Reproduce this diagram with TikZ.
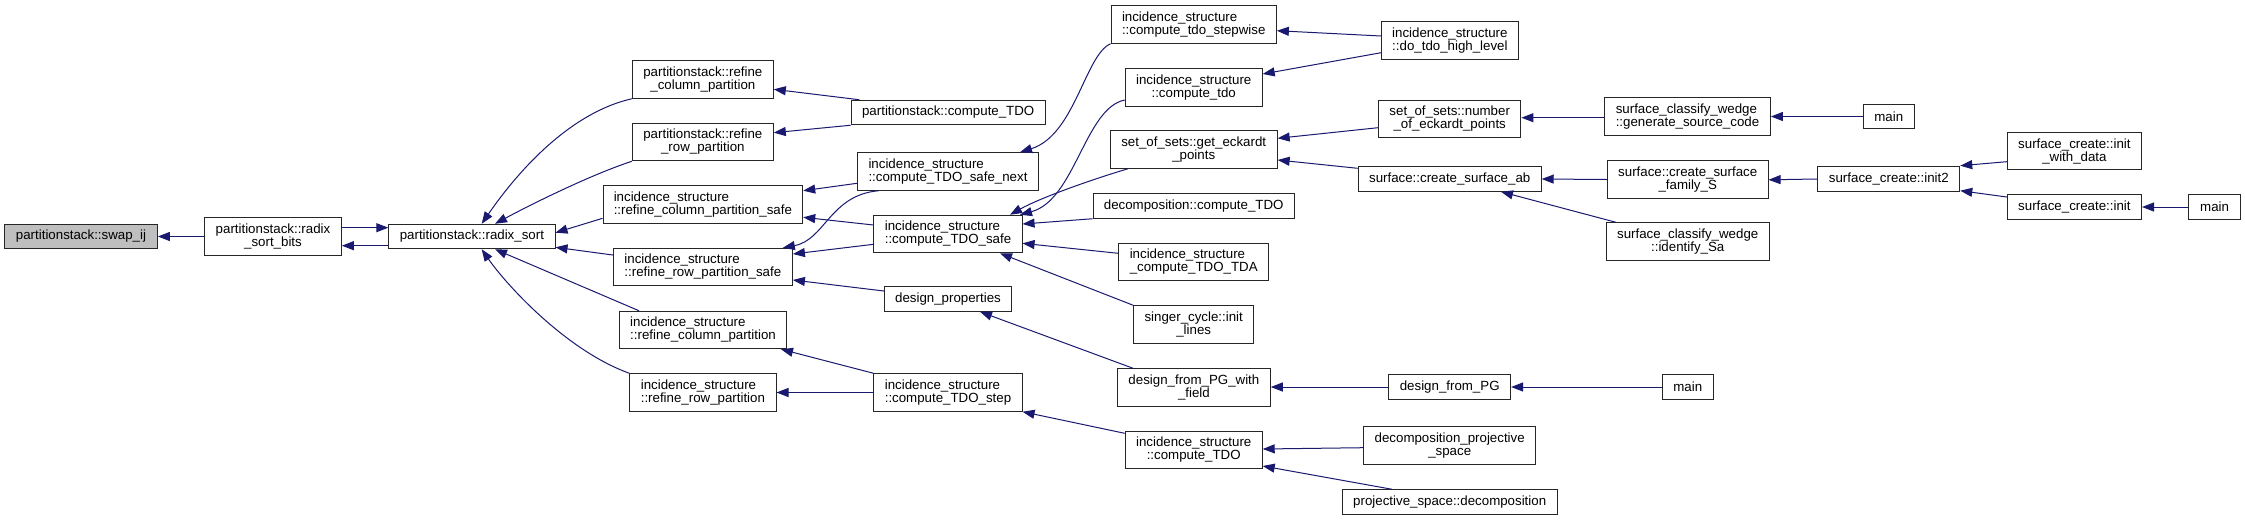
\documentclass[tikz,border=0pt]{standalone}
\usepackage{fontspec}
\setmainfont{Liberation Sans}
\usetikzlibrary{arrows.meta}
\definecolor{edgeblue}{RGB}{25,25,112}
\definecolor{nodegray}{RGB}{191,191,191}
\begin{document}
\begin{tikzpicture}[x=1pt,y=-1pt,
  box/.style={draw=black!85, line width=1pt, fill=white, inner sep=0pt, align=center,
    font=\fontsize{13.3}{13}\selectfont, minimum height=24.5pt},
  box2/.style={box, minimum height=37.5pt},
  lbox/.style={box2, align=left},
  edge/.style={draw=edgeblue, line width=1pt, -{Triangle[length=12pt,width=9pt]}}
]
\useasboundingbox[fill=white] (0,0) rectangle (2245,520);

\node[box, fill=nodegray, minimum width=152.7pt] (swap) at (81,236.5) {partitionstack::swap\_ij};
\node[box2, minimum width=136.7pt] (bits) at (273,236.5) {partitionstack::radix\\\_sort\_bits};
\node[box, minimum width=166.2pt] (radix) at (471.9,236.5) {partitionstack::radix\_sort};
\node[box2, minimum width=140.9pt] (prcp) at (702.85,79.5) {partitionstack::refine\\\_column\_partition};
\node[box2, minimum width=140.9pt] (prrp) at (702.85,142) {partitionstack::refine\\\_row\_partition};
\node[lbox, minimum width=199.7pt] (ircps) at (702.85,204.5) {incidence\_structure\\::refine\_column\_partition\_safe};
\node[lbox, minimum width=179.1pt] (irrps) at (702.85,267) {incidence\_structure\\::refine\_row\_partition\_safe};
\node[lbox, minimum width=167.3pt] (ircp) at (703,330) {incidence\_structure\\::refine\_column\_partition};
\node[lbox, minimum width=146.2pt] (irrp) at (702.9,392.5) {incidence\_structure\\::refine\_row\_partition};
\node[box, minimum width=194.4pt] (pstdo) at (948.2,112.5) {partitionstack::compute\_TDO};
\node[lbox, minimum width=181pt] (safenext) at (948,171.5) {incidence\_structure\\::compute\_TDO\_safe\_next};
\node[lbox, minimum width=148.1pt] (safe) at (948,234) {incidence\_structure\\::compute\_TDO\_safe};
\node[box, minimum width=127.4pt] (dprop) at (948,299) {design\_properties};
\node[lbox, minimum width=148.1pt] (step) at (948,392.5) {incidence\_structure\\::compute\_TDO\_step};
\node[lbox, minimum width=165.3pt] (stepwise) at (1193.7,24.5) {incidence\_structure\\::compute\_tdo\_stepwise};
\node[box2, minimum width=137pt] (cometdo) at (1193.7,87.5) {incidence\_structure\\::compute\_tdo};
\node[box2, minimum width=166.9pt] (eck) at (1193.7,149.5) {set\_of\_sets::get\_eckardt\\\_points};
\node[box, minimum width=201.3pt] (dectdo) at (1193.7,206) {decomposition::compute\_TDO};
\node[lbox, minimum width=150pt] (tda) at (1193.7,262) {incidence\_structure\\\_compute\_TDO\_TDA};
\node[box2, minimum width=120.1pt] (singer) at (1193.7,324.5) {singer\_cycle::init\\\_lines};
\node[box2, minimum width=152.7pt] (dpgwf) at (1193.9,387.5) {design\_from\_PG\_with\\\_field};
\node[box2, minimum width=137pt] (istdo) at (1193.7,450) {incidence\_structure\\::compute\_TDO};
\node[lbox, minimum width=136.6pt] (high) at (1449.9,40.5) {incidence\_structure\\::do\_tdo\_high\_level};
\node[box2, minimum width=142.4pt] (neck) at (1449.7,119) {set\_of\_sets::number\\\_of\_eckardt\_points};
\node[box, minimum width=183pt] (csab) at (1449.7,179) {surface::create\_surface\_ab};
\node[box, minimum width=121.7pt] (dpg) at (1449.7,387) {design\_from\_PG};
\node[box2, minimum width=172.2pt] (dps) at (1449.7,445.5) {decomposition\_projective\\\_space};
\node[box, minimum width=215pt] (psd) at (1449.7,502) {projective\_space::decomposition};
\node[lbox, minimum width=165.7pt] (gsc) at (1687.5,116.5) {surface\_classify\_wedge\\::generate\_source\_code};
\node[box2, minimum width=160.7pt] (csfs) at (1687.7,179.5) {surface::create\_surface\\\_family\_S};
\node[box2, minimum width=163pt] (isa) at (1687.7,241.5) {surface\_classify\_wedge\\::identify\_Sa};
\node[box, minimum width=50.9pt] (mainc) at (1687.8,387) {main};
\node[box, minimum width=50.9pt] (maina) at (1888.8,116.5) {main};
\node[box, minimum width=141.9pt] (init2) at (1888.8,179) {surface\_create::init2};
\node[box2, minimum width=134.2pt] (iwd) at (2074.4,151) {surface\_create::init\\\_with\_data};
\node[box, minimum width=134.2pt] (init) at (2074.4,207) {surface\_create::init};
\node[box, minimum width=51.3pt] (mainb) at (2214.6,207) {main};

\draw[edge] (bits.west) -- (swap.east);
\draw[edge] ([yshift=8.8pt]bits.east) -- ([yshift=8.8pt]radix.west);
\draw[edge] ([yshift=-9.2pt]radix.west) -- ([yshift=-9.2pt]bits.east);
\draw[edge] (prcp.south west) .. controls (560,115) and (505,190) .. ([xshift=9.8pt]radix.north);
\draw[edge] (prrp.south west) .. controls (590,175) and (530,205) .. ([xshift=23.1pt]radix.north);
\draw[edge] ([yshift=-13.8pt]ircps.west) -- ([yshift=3.8pt]radix.east);
\draw[edge] ([yshift=12pt]irrps.west) -- ([yshift=-10.8pt]radix.east);
\draw[edge] ([xshift=-64pt]ircp.north) -- ([xshift=23.1pt]radix.south);
\draw[edge] (irrp.north west) .. controls (565,350) and (505,283) .. ([xshift=9.8pt]radix.south);

\draw[edge] ([xshift=-88.8pt]pstdo.north) -- ([yshift=-9.8pt]prcp.east);
\draw[edge] (pstdo.south west) -- ([yshift=9.3pt]prrp.east);
\draw[edge] ([yshift=-11.8pt]safenext.west) -- ([yshift=13.8pt]ircps.east);
\draw[edge] ([xshift=-69.5pt]safenext.south) .. controls (830,195) and (825,240) .. ([xshift=80pt]irrps.north);
\draw[edge] ([yshift=9pt]safe.west) -- ([yshift=-12.8pt]ircps.east);
\draw[edge] ([yshift=-10.3pt]safe.west) -- ([yshift=13pt]irrps.east);
\draw[edge] ([yshift=8pt]dprop.west) -- ([yshift=-13pt]irrps.east);
\draw[edge] (step.north west) -- ([xshift=78pt]ircp.south);
\draw[edge] (step.west) -- (irrp.east);

\draw[edge] (stepwise.south west) .. controls (1085,55) and (1075,135) .. ([xshift=72pt]safenext.north);
\draw[edge] ([yshift=-12.5pt]cometdo.west) .. controls (1085,108) and (1075,200) .. ([xshift=72pt]safe.north);
\draw[edge] ([xshift=-65.7pt]eck.south) .. controls (1090,180) and (1040,198) .. ([xshift=62pt]safe.north);
\draw[edge] (dectdo.south west) -- ([yshift=10pt]safe.east);
\draw[edge] ([yshift=8.7pt]tda.west) -- ([yshift=-9.3pt]safe.east);
\draw[edge] (singer.north west) -- ([xshift=52pt]safe.south);
\draw[edge] ([xshift=-60.9pt]dpgwf.north) -- ([xshift=32pt]dprop.south);
\draw[edge] ([yshift=16.7pt]istdo.west) -- (step.south east);

\draw[edge] ([yshift=4.5pt]high.west) -- ([yshift=-6.2pt]stepwise.east);
\draw[edge] ([yshift=-12.2pt]high.west) -- ([yshift=13.5pt]cometdo.east);
\draw[edge] ([yshift=-8.7pt]neck.west) -- ([yshift=11.2pt]eck.east);
\draw[edge] ([yshift=10.7pt]csab.west) -- ([yshift=-10.5pt]eck.east);
\draw[edge] ([yshift=-2.2pt]dps.west) -- ([yshift=1pt]istdo.east);
\draw[edge] ([xshift=-57.8pt]psd.north) -- ([yshift=-16pt]istdo.east);
\draw[edge] (dpg.west) -- ([yshift=0.5pt]dpgwf.east);

\draw[edge] ([yshift=-1.2pt]gsc.west) -- ([yshift=1.3pt]neck.east);
\draw[edge] (csfs.west) -- (csab.east);
\draw[edge] ([xshift=-71.9pt]isa.north) -- ([xshift=51.3pt]csab.south);
\draw[edge] (maina.west) -- (gsc.east);
\draw[edge] (init2.west) -- ([yshift=-0.3pt]csfs.east);
\draw[edge] ([yshift=-10.7pt]iwd.west) -- ([yshift=13.3pt]init2.east);
\draw[edge] ([yshift=10pt]init.west) -- ([yshift=-11.7pt]init2.east);
\draw[edge] (mainb.west) -- (init.east);
\draw[edge] (mainc.west) -- (dpg.east);
\end{tikzpicture}
\end{document}
